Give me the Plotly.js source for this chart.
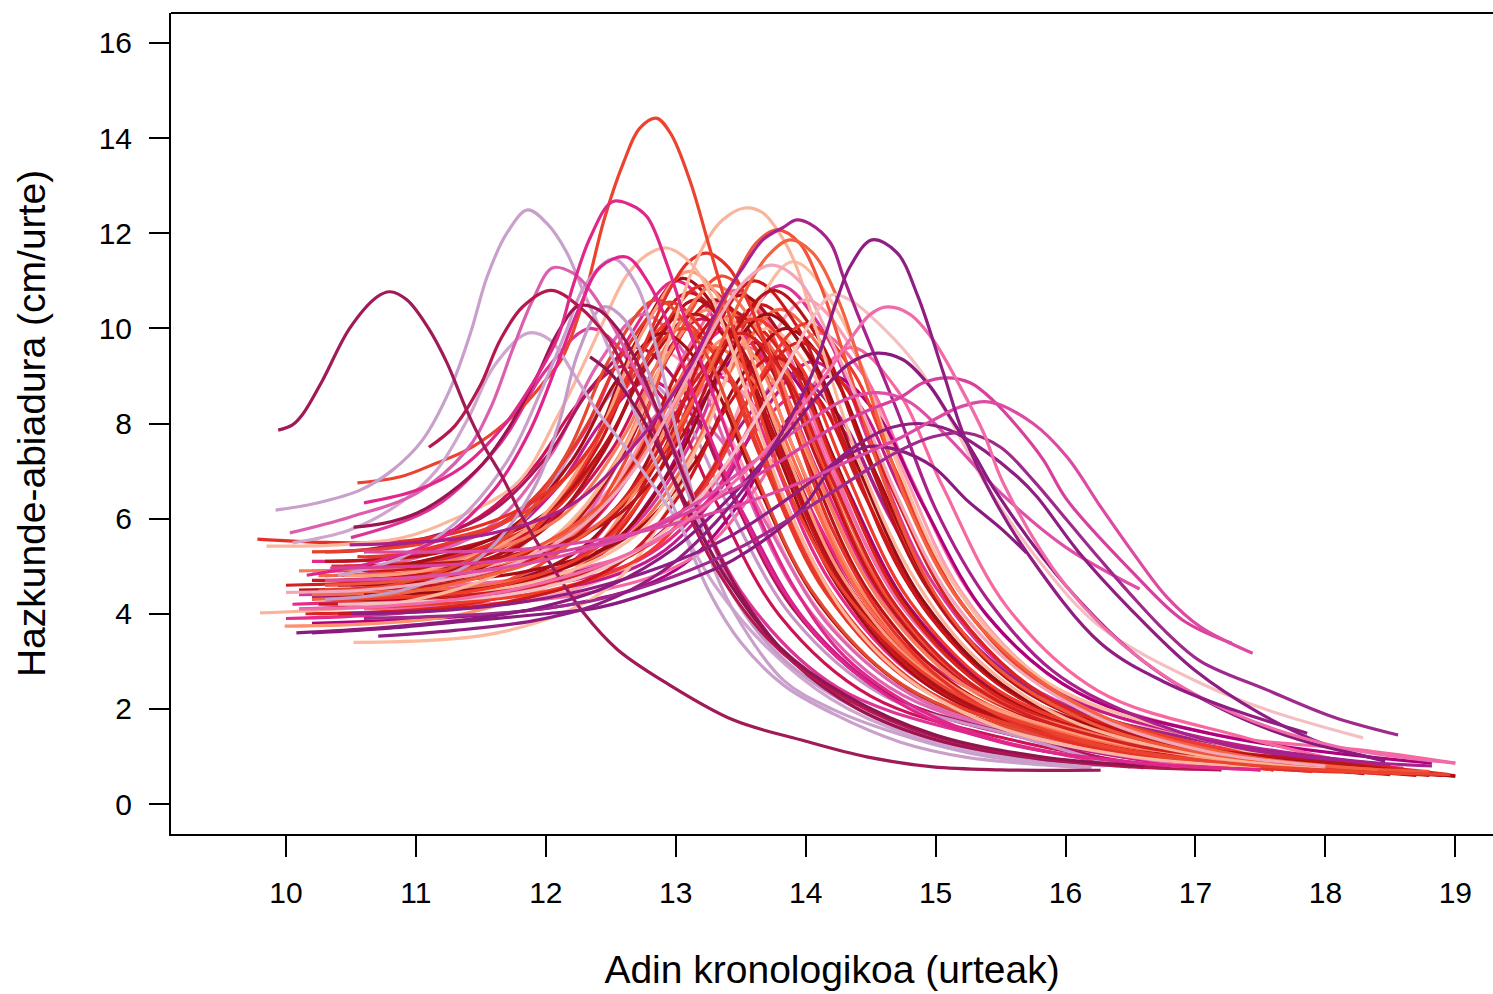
<!DOCTYPE html>
<html>
<head>
<meta charset="utf-8">
<script src="https://cdn.plot.ly/plotly-3.0.1.min.js"></script>
<style>
  html, body { margin: 0; padding: 0; background: #ffffff; }
  #chart { width: 1493px; height: 994px; }
</style>
</head>
<body>
<div id="chart"></div>
<script>
// Individual growth-velocity curves (age in years, velocity in cm/year).
// Each entry of curveAges / curveVelocities / curveColours describes one person.

const xTicks = [10, 11, 12, 13, 14, 15, 16, 17, 18, 19];
const yTicks = [0, 2, 4, 6, 8, 10, 12, 14, 16];

const curveColours = [
  // red group
  "#a50f15", "#cb181d", "#e03024", "#b81419", "#ef4a33", "#f4664a", "#a50f15", "#d9241f",
  "#fb8a68", "#cb181d", "#ef3b2c", "#fcbba1", "#b81419", "#f26a4b", "#a50f15", "#e5372a",
  "#fc9272", "#d9241f", "#cb181d", "#fb6a4a", "#a50f15", "#ef3b2c", "#fcbba1", "#cb181d",
  "#b0121a", "#e8402d", "#c3161c", "#f57b5c", "#9b0d14", "#ef3b2c", "#fc9c7c", "#d42020",
  "#b81419", "#e34a33",
  "#e5302a", "#fbb79d", "#f9b49a", "#f0553a", "#f26440", "#ec4330",
  // pink / purple group
  "#e7298a", "#f768a1", "#ce1256", "#dd3497", "#fa9fb5", "#ae017e", "#f768a1", "#e7298a",
  "#c51b8a", "#ce1256", "#df65b0", "#fa9fb5", "#dd3497", "#ae017e", "#f768a1", "#e7298a",
  "#c51b8a", "#f06ba8", "#a1238a", "#e7298a", "#fa9fb5", "#ae1759", "#df65b0", "#c994c7",
  "#cfa6cf", "#c49ac6", "#c9a0cb", "#c9a0cb", "#dc5fae", "#9b1550", "#b5174f", "#8e1550",
  "#e0258c", "#e0288a", "#a01a58", "#f3a6ba", "#f5bfc2", "#a8218c", "#df4fa7", "#8b1a7f",
  "#8f1d82", "#9e2a8b", "#8b1a7f", "#d8409e", "#dd4aa3", "#f06ba8", "#8f1d82"
];

const curveAges = [
  [10.3,11.05,11.85,12.35,12.7,13.05,13.4,13.75,14.25,14.95,16.05,17.25,18.9],
  [10.2,11.1,11.9,12.4,12.75,13.1,13.45,13.8,14.3,15.0,16.1,17.3,18.5],
  [10.35,11.2,12.0,12.5,12.85,13.2,13.55,13.9,14.4,15.1,16.2,17.4,18.2],
  [10.1,11.3,12.1,12.6,12.95,13.3,13.65,14.0,14.5,15.2,16.3,17.5,18.8],
  [10.4,11.35,12.15,12.65,13.0,13.35,13.7,14.05,14.55,15.25,16.35,17.9],
  [10.25,11.45,12.25,12.75,13.1,13.45,13.8,14.15,14.65,15.35,16.45,17.65,18.6],
  [10.5,11.5,12.3,12.8,13.15,13.5,13.85,14.2,14.7,15.4,16.5,18.3],
  [10.15,11.55,12.35,12.85,13.2,13.55,13.9,14.25,14.75,15.45,16.55,17.75,19.0],
  [10.3,11.25,12.05,12.55,12.9,13.25,13.6,13.95,14.45,15.15,16.25,18.0],
  [10.45,11.65,12.45,12.95,13.3,13.65,14.0,14.35,14.85,15.55,16.65,17.85,18.7],
  [10.6,11.0,11.8,12.3,12.65,13.0,13.35,13.7,14.2,14.9,16.0,17.6],
  [10.52,11.7,12.5,13.0,13.35,13.7,14.05,14.4,14.9,15.6,16.7,18.4],
  [10.3,11.15,11.95,12.45,12.8,13.15,13.5,13.85,14.35,15.05,16.15,17.8],
  [10.2,11.8,12.6,13.1,13.45,13.8,14.15,14.5,15.0,15.7,16.8,18.0,18.9],
  [10.4,11.85,12.65,13.15,13.5,13.85,14.2,14.55,15.05,15.75,16.85,18.05,19.0],
  [10.55,10.95,11.75,12.25,12.6,12.95,13.3,13.65,14.15,14.85,15.95,17.5],
  [9.99,11.4,12.2,12.7,13.05,13.4,13.75,14.1,14.6,15.3,16.4,18.1],
  [10.35,11.95,12.75,13.25,13.6,13.95,14.3,14.65,15.15,15.85,16.95,18.15,18.95],
  [10.25,11.6,12.4,12.9,13.25,13.6,13.95,14.3,14.8,15.5,16.6,18.3],
  [10.5,11.3,12.1,12.6,12.95,13.3,13.65,14.0,14.5,15.2,16.3,18.0],
  [10.3,10.9,11.7,12.2,12.55,12.9,13.25,13.6,14.1,14.8,15.9,17.3],
  [10.15,12.0,12.8,13.3,13.65,14.0,14.35,14.7,15.2,15.9,17.0,18.9],
  [10.6,11.9,12.7,13.2,13.55,13.9,14.25,14.6,15.1,15.8,16.9,18.0],
  [10.4,11.75,12.55,13.05,13.4,13.75,14.1,14.45,14.95,15.65,16.75,18.6],
  [10.45,11.15,11.95,12.45,12.8,13.15,13.5,13.85,14.35,15.05,16.15,17.35,18.7],
  [10.2,11.05,11.85,12.35,12.7,13.05,13.4,13.75,14.25,14.95,16.05,17.9],
  [10.35,11.4,12.2,12.7,13.05,13.4,13.75,14.1,14.6,15.3,16.4,17.6,18.8],
  [10.1,11.3,12.1,12.6,12.95,13.3,13.65,14.0,14.5,15.2,16.3,18.0],
  [10.6,11.7,12.5,13.0,13.35,13.7,14.05,14.4,14.9,15.6,16.7,17.9,18.95],
  [10.3,11.6,12.4,12.9,13.25,13.6,13.95,14.3,14.8,15.5,16.6,18.4],
  [10.45,11.1,11.9,12.4,12.75,13.1,13.45,13.8,14.3,15.0,16.1,17.8],
  [10.0,11.5,12.3,12.8,13.15,13.5,13.85,14.2,14.7,15.4,16.5,17.7,18.9],
  [10.55,11.75,12.55,13.05,13.4,13.75,14.1,14.45,14.95,15.65,16.75,17.95,18.9],
  [10.25,10.85,11.65,12.15,12.5,12.85,13.2,13.55,14.05,14.75,15.85,17.6],
  [9.78,10.3,10.8,11.3,11.8,12.2,12.5,12.75,12.95,13.1,13.24,13.4,13.55,13.7,13.9,14.2,14.6,15.1,15.8,16.7,17.7,18.6],
  [9.85,10.4,10.9,11.3,11.78,12.1,12.3,12.47,12.62,12.78,12.93,13.09,13.24,13.4,13.6,13.9,14.3,14.8,15.5,16.5,17.5],
  [9.8,10.4,11.0,11.6,12.1,12.5,12.8,13.0,13.11,13.24,13.36,13.53,13.67,13.83,13.93,14.1,14.4,14.8,15.3,16.0,17.0,18.0],
  [10.3,10.9,11.5,12.0,12.5,12.9,13.2,13.45,13.62,13.78,13.95,14.1,14.3,14.6,15.0,15.5,16.2,17.0,18.0,18.8],
  [10.2,10.8,11.4,12.0,12.5,12.9,13.25,13.5,13.7,13.88,14.05,14.25,14.45,14.8,15.2,15.8,16.5,17.4,18.4],
  [10.55,10.88,11.16,11.39,11.62,11.82,11.98,12.13,12.29,12.45,12.6,12.72,12.85,12.96,13.11,13.26,13.42,13.6,13.88,14.34,15.1,16.27,17.3,18.2,18.96],
  // pink / purple group
  [10.2,11.0,11.8,12.3,12.65,13.0,13.35,13.7,14.2,14.9,16.0,17.7],
  [10.3,11.45,12.25,12.75,13.1,13.45,13.8,14.15,14.65,15.35,16.45,18.2],
  [10.45,11.2,12.0,12.5,12.85,13.2,13.55,13.9,14.4,15.1,16.2,17.6],
  [10.1,11.8,12.6,13.1,13.45,13.8,14.15,14.5,15.0,15.7,16.8,18.4],
  [10.25,12.0,12.8,13.3,13.65,14.0,14.35,14.7,15.2,15.9,17.0,18.8],
  [10.55,11.6,12.4,12.9,13.25,13.6,13.95,14.3,14.8,15.5,16.6,18.0],
  [10.35,12.1,12.9,13.4,13.75,14.1,14.45,14.8,15.3,16.0,17.1,18.3,19.0],
  [10.0,11.3,12.1,12.6,12.95,13.3,13.65,14.0,14.5,15.2,16.3,17.24],
  [10.3,10.8,11.6,12.1,12.45,12.8,13.15,13.5,14.0,14.7,15.8,17.0],
  [10.6,11.4,11.9,12.25,12.6,12.95,13.3,13.8,14.5,15.6,16.8],
  [10.2,10.75,11.55,12.05,12.4,12.75,13.1,13.45,13.95,14.65,15.75,17.2],
  [10.4,10.9,11.7,12.2,12.55,12.9,13.25,13.6,14.1,14.8,15.9,17.5],
  [10.5,11.15,11.65,12.0,12.35,12.7,13.05,13.55,14.25,15.35,16.5],
  [10.2,12.2,13.0,13.5,13.85,14.2,14.55,14.9,15.4,16.1,17.2,18.82],
  [10.6,12.35,13.15,13.65,14.0,14.35,14.7,15.05,15.55,16.25,17.35,18.3],
  [10.05,11.95,12.75,13.25,13.6,13.95,14.3,14.65,15.15,15.85,16.95,18.6],
  [10.1,12.05,12.85,13.35,13.7,14.05,14.4,14.75,15.25,15.95,17.05,18.5],
  [10.4,11.55,12.35,12.85,13.2,13.55,13.9,14.25,14.75,15.45,16.55,18.1],
  [10.2,11.9,12.7,13.2,13.55,13.9,14.25,14.6,15.1,15.8,16.9,18.46],
  [10.5,11.4,12.2,12.7,13.05,13.4,13.75,14.1,14.6,15.3,16.4,17.9],
  [10.35,11.25,12.05,12.55,12.9,13.25,13.6,13.95,14.45,15.15,16.25,18.0],
  [10.3,10.7,11.5,12.0,12.35,12.7,13.05,13.4,13.9,14.6,15.7,16.6],
  [10.6,11.0,11.8,12.3,12.65,13.0,13.35,13.7,14.2,14.9,16.0,17.4],
  [10.45,10.7,11.5,12.0,12.35,12.7,13.05,13.4,13.9,14.6,15.7,16.4],
  [10.05,10.49,10.88,11.16,11.4,11.6,11.86,12.03,12.21,12.39,12.55,12.72,13.0,13.3,13.7,14.2,14.8,15.5,16.3],
  [10.3,10.9,11.5,11.9,12.1,12.25,12.44,12.6,12.8,13.0,13.3,13.7,14.2,14.9,15.6,16.4],
  [10.4,10.9,11.3,11.7,11.95,12.15,12.3,12.52,12.7,12.85,13.0,13.15,13.3,13.5,13.83,14.2,14.8,15.4,16.2],
  [9.92,10.24,10.57,10.82,11.05,11.26,11.42,11.55,11.7,11.86,12.01,12.16,12.3,12.45,12.6,12.75,12.9,13.05,13.25,13.5,13.83,14.21,14.73,15.24,15.75,16.2],
  [10.03,10.49,11.01,11.39,11.57,11.75,11.9,12.05,12.21,12.34,12.52,12.65,12.78,12.93,13.2,13.5,13.9,14.4,15.0,15.8,16.8],
  [10.52,10.75,11.01,11.26,11.52,11.72,11.93,12.09,12.25,12.4,12.55,12.7,12.9,13.2,13.5,13.9,14.4,15.0,15.8,16.8],
  [11.1,11.3,11.49,11.65,11.82,12.04,12.26,12.47,12.6,12.75,13.0,13.3,13.7,14.2,14.8,15.5,16.4,17.2],
  [12.34,12.5,12.7,12.9,13.1,13.4,13.8,14.3,15.0,15.8,16.6],
  [10.16,10.7,11.2,11.6,11.88,12.09,12.26,12.42,12.62,12.78,12.93,13.06,13.19,13.5,13.8,14.2,14.8,15.5,16.5,17.5],
  [10.6,11.01,11.36,11.67,11.9,12.09,12.21,12.34,12.51,12.65,12.78,12.93,13.06,13.21,13.34,13.6,13.9,14.3,14.9,15.6,16.5,17.5],
  [9.94,10.05,10.13,10.28,10.49,10.7,10.8,10.93,11.09,11.24,11.39,11.52,11.67,11.82,12.03,12.29,12.55,12.93,13.44,13.96,14.47,14.98,15.5,16.27],
  [10.0,10.6,11.2,11.8,12.3,12.7,13.0,13.25,13.5,13.73,13.95,14.15,14.4,14.7,15.1,15.6,16.3,17.1,18.0],
  [10.4,11.0,11.7,12.3,12.8,13.2,13.55,13.85,14.05,14.2,14.34,14.6,14.86,15.11,15.37,15.8,16.27,17.04,17.55,18.29],
  [10.49,11.0,11.6,12.2,12.7,13.11,13.36,13.52,13.67,13.83,13.93,14.03,14.19,14.29,14.4,14.7,15.0,15.4,15.9,16.5,17.3,18.2,18.82],
  [10.3,10.9,11.5,12.1,12.7,13.2,13.6,14.0,14.3,14.55,14.8,15.1,15.5,16.0,16.57],
  [10.2,10.8,11.4,12.0,12.42,12.93,13.44,13.96,14.21,14.47,14.7,14.98,15.24,15.5,15.7],
  [10.5,11.1,11.7,12.3,12.9,13.4,13.8,14.1,14.34,14.6,14.86,15.11,15.37,15.63,15.78,16.1,16.5,17.0,17.5,18.0,18.46],
  [10.6,11.2,11.8,12.4,13.0,13.5,14.0,14.4,14.73,14.98,15.24,15.5,15.75,16.01,16.27,16.52,16.78,17.04,17.55,18.06,18.56],
  [10.08,10.7,11.3,11.9,12.5,13.0,13.4,13.8,14.1,14.34,14.55,14.75,14.96,15.11,15.29,15.47,16.0,16.6,17.2,17.8,18.46],
  [10.34,11.0,11.6,12.2,12.8,13.3,13.8,14.2,14.5,14.73,14.9,15.09,15.27,15.44,15.63,15.83,16.01,16.52,16.9,17.28],
  [10.6,11.2,11.8,12.4,13.0,13.5,14.0,14.4,14.73,14.98,15.19,15.42,15.75,16.01,16.27,16.52,16.78,17.04,17.44],
  [10.1,10.7,11.3,11.9,12.5,13.0,13.5,13.9,14.2,14.34,14.5,14.63,14.8,14.98,15.19,15.37,15.52,16.0,16.6,17.3,18.1,19.0],
  [10.71,11.3,11.9,12.4,12.9,13.3,13.7,14.03,14.24,14.34,14.51,14.7,14.86,15.06,15.21,15.44,15.7,16.27,16.78,17.29,17.86]
];

const curveVelocities = [
  [4.4,4.55,5.53,7.48,9.75,11.05,10.0,7.6,4.57,2.48,1.33,0.91,0.6],
  [4.7,4.88,5.76,7.52,9.58,10.75,9.74,7.41,4.47,2.44,1.33,0.92,0.62],
  [5.0,5.17,6.03,7.75,9.75,10.9,9.88,7.52,4.55,2.5,1.38,0.97,0.66],
  [4.5,4.74,5.62,7.38,9.43,10.6,9.6,7.3,4.4,2.4,1.3,0.9,0.6],
  [4.2,4.39,5.4,7.41,9.76,11.1,10.06,7.67,4.65,2.57,1.43,0.7],
  [4.8,5.04,5.83,7.41,9.25,10.3,9.34,7.12,4.32,2.39,1.32,0.94,0.65],
  [4.3,4.5,5.43,7.29,9.46,10.7,9.69,7.38,4.46,2.45,1.34,0.64],
  [4.0,4.28,5.15,6.9,8.94,10.1,9.15,6.97,4.21,2.31,1.27,0.89,0.6],
  [4.5,4.69,5.55,7.26,9.26,10.4,9.43,7.2,4.39,2.45,1.38,0.7],
  [4.9,5.14,5.94,7.55,9.43,10.5,9.51,7.24,4.37,2.4,1.31,0.92,0.62],
  [4.6,4.68,5.51,7.16,9.1,10.2,9.25,7.07,4.32,2.43,1.38,0.72],
  [3.4,3.64,4.59,6.5,8.73,10.0,9.07,6.92,4.21,2.34,1.31,0.66],
  [5.1,5.27,6.02,7.53,9.29,10.3,9.34,7.13,4.35,2.43,1.37,0.7],
  [4.4,4.72,5.57,7.28,9.26,10.4,9.42,7.17,4.34,2.38,1.3,0.91,0.62],
  [4.6,4.89,5.66,7.19,8.98,10.0,9.06,6.89,4.16,2.28,1.24,0.86,0.58],
  [5.2,5.28,6.07,7.65,9.5,10.55,9.57,7.31,4.46,2.49,1.41,0.72],
  [3.74,4.02,4.89,6.62,8.64,9.8,8.89,6.8,4.16,2.34,1.34,0.7],
  [4.3,4.62,5.38,6.91,8.68,9.7,8.79,6.7,4.07,2.25,1.24,0.87,0.62],
  [4.2,4.47,5.45,7.41,9.69,11.0,9.97,7.58,4.58,2.51,1.37,0.65],
  [4.5,4.66,5.4,6.88,8.61,9.6,8.71,6.66,4.07,2.29,1.3,0.68],
  [4.9,5.02,5.75,7.22,8.92,9.9,8.99,6.88,4.23,2.4,1.39,0.75],
  [4.1,4.47,5.31,7.0,8.97,10.1,9.15,6.97,4.22,2.33,1.28,0.62],
  [4.4,4.66,5.67,7.69,10.05,11.4,10.33,7.88,4.79,2.66,1.49,0.74],
  [4.0,4.27,5.04,6.58,8.37,9.4,8.52,6.51,3.97,2.22,1.25,0.64],
  [4.7,4.84,5.7,7.43,9.45,10.6,9.6,7.3,4.4,2.4,1.3,0.9,0.6],
  [5.3,5.47,6.15,7.51,9.09,10.0,9.07,6.92,4.22,2.36,1.35,0.68],
  [4.5,4.71,5.56,7.27,9.26,10.4,9.42,7.17,4.34,2.38,1.3,0.91,0.62],
  [4.9,5.14,6.0,7.73,9.75,10.9,9.88,7.53,4.58,2.54,1.41,0.7],
  [4.4,4.62,5.47,7.18,9.16,10.3,9.33,7.1,4.29,2.35,1.28,0.89,0.6],
  [4.3,4.56,5.41,7.1,9.07,10.2,9.24,7.05,4.27,2.36,1.31,0.64],
  [4.8,4.93,5.87,7.75,9.95,11.2,10.15,7.74,4.7,2.61,1.47,0.72],
  [4.6,4.9,5.65,7.15,8.9,9.9,8.97,6.84,4.15,2.29,1.25,0.9,0.62],
  [5.0,5.24,6.07,7.74,9.69,10.8,9.78,7.43,4.48,2.44,1.31,0.91,0.6],
  [4.5,4.62,5.52,7.31,9.4,10.6,9.61,7.34,4.47,2.5,1.41,0.72],
  [5.57,5.5,5.5,5.7,6.2,7.0,8.2,9.6,10.8,11.4,11.58,11.3,10.6,9.6,8.0,5.8,3.9,2.5,1.5,0.95,0.72,0.65],
  [5.42,5.45,5.6,6.0,6.75,8.2,9.3,10.3,11.1,11.55,11.69,11.44,10.87,9.8,8.2,6.0,4.0,2.6,1.6,1.0,0.78],
  [4.02,4.1,4.3,4.8,5.7,7.0,8.6,10.2,11.1,11.86,12.28,12.53,12.43,11.86,11.29,9.8,7.3,4.9,3.1,1.8,1.05,0.78],
  [4.6,4.7,5.0,5.5,6.5,8.0,9.6,11.0,11.8,12.07,11.8,11.0,9.4,6.8,4.4,2.8,1.7,1.1,0.8,0.68],
  [4.3,4.4,4.7,5.2,6.1,7.4,9.1,10.6,11.5,11.86,11.6,10.6,9.0,6.2,4.2,2.6,1.6,1.0,0.72],
  [6.75,6.88,7.17,7.44,7.86,8.35,8.85,9.4,10.6,12.3,13.5,14.2,14.42,14.1,13.1,11.7,10.2,8.6,6.5,4.3,2.4,1.24,0.85,0.68,0.62],
  // pink / purple group
  [5.1,5.26,6.12,7.84,9.85,11.0,9.97,7.61,4.63,2.57,1.44,0.72],
  [4.6,4.83,5.73,7.52,9.61,10.8,9.79,7.47,4.54,2.52,1.41,0.7],
  [5.0,5.15,5.91,7.42,9.19,10.2,9.25,7.07,4.32,2.43,1.38,0.72],
  [4.4,4.74,5.66,7.51,9.67,10.9,9.88,7.53,4.56,2.52,1.42,0.68],
  [4.0,4.35,5.29,7.16,9.35,10.6,9.61,7.33,4.45,2.47,1.37,0.68],
  [4.2,4.41,5.2,6.79,8.64,9.7,8.8,6.74,4.13,2.34,1.35,0.72],
  [4.5,4.85,5.61,7.12,8.89,9.9,9.0,6.92,4.3,2.49,1.49,1.13,0.86],
  [3.9,4.16,4.89,6.34,8.03,9.0,8.21,6.39,4.1,2.51,1.55,1.09],
  [4.8,4.9,5.5,6.7,8.1,8.9,8.09,6.21,3.85,2.22,1.32,0.75],
  [5.3,5.89,7.06,8.42,9.2,8.36,6.41,3.96,2.27,1.34,0.75],
  [4.9,5.01,5.8,7.39,9.24,10.3,9.34,7.14,4.36,2.44,1.39,0.72],
  [4.3,4.4,5.17,6.7,8.48,9.5,8.62,6.61,4.07,2.32,1.35,0.74],
  [5.6,6.26,7.58,9.12,10.0,9.08,6.96,4.28,2.44,1.42,0.78],
  [3.8,4.2,4.92,6.36,8.04,9.0,8.19,6.31,3.95,2.33,1.43,0.86],
  [4.1,4.45,5.22,6.77,8.57,9.6,8.72,6.7,4.14,2.38,1.42,0.8],
  [4.2,4.58,5.18,6.39,7.8,8.6,7.82,6.01,3.73,2.16,1.3,0.75],
  [4.1,4.49,5.21,6.65,8.34,9.3,8.45,6.5,4.03,2.33,1.4,0.8],
  [4.9,5.13,5.8,7.14,8.71,9.6,8.72,6.68,4.12,2.35,1.38,0.76],
  [4.35,4.69,5.34,6.63,8.14,9.0,8.18,6.31,3.94,2.31,1.41,0.84],
  [4.6,4.78,5.56,7.13,8.96,10.0,9.08,6.95,4.27,2.42,1.4,0.75],
  [4.7,4.88,5.53,6.82,8.34,9.2,8.36,6.42,3.98,2.3,1.37,0.78],
  [5.3,5.38,6.01,7.28,8.76,9.6,8.72,6.68,4.12,2.35,1.38,0.76],
  [4.0,4.08,4.73,6.02,7.54,8.4,7.64,5.89,3.69,2.17,1.33,0.8],
  [4.45,4.5,5.18,6.53,8.1,9.0,8.18,6.29,3.92,2.28,1.37,0.8],
  [5.49,5.76,6.33,7.02,8.1,9.2,9.9,9.76,9.06,8.28,7.72,7.1,6.0,4.6,3.3,2.2,1.45,1.0,0.8],
  [4.3,4.5,5.2,6.6,8.0,9.5,10.45,10.2,9.0,7.3,5.1,3.4,2.3,1.45,1.0,0.8],
  [4.8,5.2,5.9,7.2,8.6,9.9,10.9,11.46,10.9,9.6,7.9,6.3,4.9,3.8,2.6,2.0,1.4,1.0,0.8],
  [6.18,6.33,6.6,7.02,7.65,8.7,9.9,11.1,12.0,12.49,12.2,11.6,10.7,9.8,8.8,7.8,6.8,5.8,4.5,3.4,2.5,1.9,1.3,0.98,0.84,0.76],
  [5.7,6.03,6.54,7.44,8.3,9.6,10.6,11.27,11.16,10.8,10.03,9.34,8.64,7.86,6.0,4.3,3.0,2.0,1.35,0.95,0.75],
  [5.82,5.9,6.12,6.54,7.17,7.93,8.98,9.9,10.47,10.4,10.0,9.3,8.0,6.0,4.4,3.0,2.0,1.35,0.95,0.76],
  [7.5,7.95,8.77,9.76,10.45,10.8,10.45,9.82,9.19,8.4,6.7,5.0,3.5,2.4,1.6,1.1,0.8,0.72],
  [9.4,9.05,8.3,7.3,6.2,4.7,3.3,2.3,1.45,1.0,0.8],
  [4.81,5.1,5.6,6.6,7.86,9.27,10.45,11.29,11.5,11.0,10.17,9.19,8.22,6.2,4.6,3.2,2.0,1.3,0.88,0.72],
  [6.33,6.6,7.09,7.93,8.85,9.8,10.9,11.9,12.66,12.6,12.34,11.37,10.3,9.19,8.22,6.3,4.6,3.1,1.95,1.25,0.88,0.72],
  [7.86,7.97,8.2,8.9,10.0,10.66,10.77,10.6,10.03,9.27,8.28,7.55,6.85,6.03,5.07,4.02,3.25,2.54,1.77,1.35,0.99,0.78,0.72,0.71],
  [4.45,4.5,4.7,5.1,5.9,7.1,8.5,9.8,10.9,11.33,11.0,10.0,8.5,6.5,4.4,2.9,1.75,1.1,0.8],
  [4.2,4.25,4.4,4.8,5.5,6.5,7.8,9.2,10.2,10.7,10.6,10.0,9.2,8.1,6.8,5.1,3.72,2.54,1.98,1.39],
  [5.45,5.5,5.7,6.3,7.6,9.19,10.6,11.29,11.86,12.13,12.28,12.2,11.8,11.08,10.3,8.3,6.2,4.3,2.8,1.9,1.2,0.9,0.8],
  [4.7,4.75,4.9,5.2,5.7,6.4,7.2,8.0,8.5,8.65,8.45,7.7,6.54,5.4,4.52],
  [3.6,3.7,3.85,4.0,4.14,4.56,5.13,6.18,7.09,7.51,7.45,7.09,6.39,5.8,5.28],
  [4.0,4.05,4.2,4.5,5.0,5.6,6.3,6.9,7.44,7.86,8.0,7.86,7.44,6.88,6.46,5.3,4.1,2.8,1.9,1.25,0.9],
  [3.9,3.95,4.05,4.3,4.8,5.4,6.2,6.9,7.44,7.72,7.8,7.5,6.81,5.97,5.13,4.35,3.6,3.0,2.4,1.83,1.45],
  [3.6,3.7,3.85,4.1,4.6,5.4,6.4,7.6,8.6,9.27,9.48,9.34,8.77,8.14,7.38,6.54,4.6,3.0,2.0,1.35,0.92],
  [4.96,5.0,5.1,5.35,5.8,6.4,7.2,7.9,8.3,8.55,8.85,8.96,8.85,8.49,7.93,7.23,6.4,4.86,3.87,3.38],
  [5.3,5.3,5.35,5.55,5.9,6.3,6.8,7.3,7.7,8.07,8.35,8.45,8.0,7.3,6.25,5.28,4.35,3.72,3.17],
  [4.1,4.15,4.3,4.6,5.1,5.8,6.9,8.1,9.2,9.76,10.3,10.45,10.3,9.76,8.77,7.8,6.75,4.6,3.0,1.9,1.2,0.86],
  [3.53,3.65,3.85,4.2,4.9,5.9,7.3,8.92,10.6,11.29,11.86,11.6,10.7,9.06,7.8,6.46,5.3,3.38,2.54,1.98,1.49]
];

// Drawing order: the mid-height pink group first, then the red group, then the
// individually distinct pink/purple curves on top.
const pinkCluster = [];
for (let i = 40; i < 64; i++) pinkCluster.push(i);
const redGroup = [];
for (let i = 0; i < 40; i++) redGroup.push(i);
const namedPinks = [];
for (let i = 64; i < curveAges.length; i++) namedPinks.push(i);
const drawOrder = pinkCluster.concat(redGroup, namedPinks);

const traces = drawOrder.map(i => ({
  type: "scatter",
  mode: "lines",
  x: curveAges[i],
  y: curveVelocities[i],
  line: { color: curveColours[i], width: 3.2, shape: "spline", smoothing: 1 },
  hoverinfo: "skip",
  showlegend: false
}));

const axisFont = { family: "Liberation Sans, Arial, Helvetica, sans-serif", size: 30, color: "#000" };
const titleFont = { family: "Liberation Sans, Arial, Helvetica, sans-serif", size: 39, color: "#000" };

const layout = {
  width: 1493,
  height: 994,
  margin: { l: 171, r: 0, t: 13, b: 160, pad: 0 },
  paper_bgcolor: "#ffffff",
  plot_bgcolor: "#ffffff",
  showlegend: false,
  xaxis: {
    range: [9.115, 19.29],
    tickvals: xTicks,
    ticktext: xTicks.map(String),
    ticks: "outside",
    ticklen: 21,
    tickwidth: 2,
    tickcolor: "#000",
    ticklabelstandoff: 10,
    showline: true,
    linecolor: "#000",
    linewidth: 2,
    showgrid: false,
    zeroline: false,
    tickfont: axisFont,
    automargin: false,
    title: { text: "Adin kronologikoa (urteak)", font: titleFont, standoff: 48 }
  },
  yaxis: {
    range: [-0.63, 16.63],
    tickvals: yTicks,
    ticktext: yTicks.map(String),
    ticks: "outside",
    ticklen: 20,
    tickwidth: 2,
    tickcolor: "#000",
    ticklabelstandoff: 11,
    showline: true,
    linecolor: "#000",
    linewidth: 2,
    showgrid: false,
    zeroline: false,
    tickfont: axisFont,
    automargin: false,
    title: { text: "Hazkunde-abiadura (cm/urte)", font: titleFont, standoff: 41 }
  },
  shapes: [
    { type: "line", xref: "paper", yref: "paper", x0: 0, x1: 1, y0: 1, y1: 1,
      line: { color: "#000", width: 2 } }
  ]
};

Plotly.newPlot("chart", traces, layout, { staticPlot: true, displayModeBar: false });
</script>
</body>
</html>
